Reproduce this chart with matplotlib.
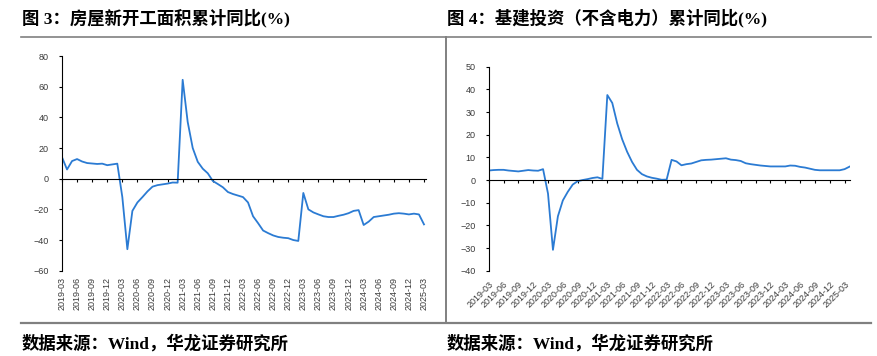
import matplotlib
matplotlib.use("Agg")
import matplotlib.pyplot as plt
from matplotlib.lines import Line2D

# ---------------- data ----------------
tick_labels = ["2019-03", "2019-06", "2019-09", "2019-12",
               "2020-03", "2020-06", "2020-09", "2020-12",
               "2021-03", "2021-06", "2021-09", "2021-12",
               "2022-03", "2022-06", "2022-09", "2022-12",
               "2023-03", "2023-06", "2023-09", "2023-12",
               "2024-03", "2024-06", "2024-09", "2024-12",
               "2025-03"]

# monthly values, first value at 2019-03
housing_starts = [14, 6, 11.5, 12.8, 11.2, 10.2, 9.9, 9.6, 9.8, 8.8, 9.3, 9.8,
                  -12, -46, -21, -15.5, -12, -8.3, -5.2, -4.2, -3.7, -3.2, -2.5, -2.6,
                  64.5, 37, 20, 11, 6.5, 3.5, -1.5, -3.5, -5.6, -8.7, -10, -11,
                  -12, -15.5, -24.5, -29, -33.8, -35.5, -37, -38, -38.5, -38.8, -40, -40.6,
                  -9.3, -20, -22, -23.3, -24.5, -25, -25, -24.2, -23.5, -22.5, -21, -20.5,
                  -30.2, -28, -25, -24.5, -24, -23.5, -22.8, -22.5, -22.8, -23.3, -22.8, -23.3,
                  -29.8]

infra_ex_power = [4.2, 4.4, 4.5, 4.5, 4.2, 4.0, 3.8, 4.1, 4.4, 4.2, 4.1, 4.8,
                  -6, -30.8, -16, -9, -5.2, -2, -0.5, 0, 0.4, 0.9, 1.2, 0.5,
                  37.5, 34, 25, 18, 12.5, 8, 4.5, 2.6, 1.6, 1.0, 0.6, 0.1,
                  0.2, 8.9, 8.2, 6.5, 7.0, 7.3, 8.0, 8.7, 8.9, 9.0, 9.2, 9.4,
                  9.6, 9.0, 8.8, 8.4, 7.4, 7.0, 6.7, 6.4, 6.2, 6.0, 6.0, 6.0,
                  6.0, 6.4, 6.3, 5.8, 5.5, 5.0, 4.5, 4.3, 4.3, 4.3, 4.3, 4.3,
                  4.8, 5.9]

left_title = "图 3：房屋新开工面积累计同比(%)"
right_title = "图 4：基建投资（不含电力）累计同比(%)"
source = "数据来源：Wind，华龙证券研究所"

left_yticks = [-60, -40, -20, 0, 20, 40, 60, 80]
right_yticks = [-40, -30, -20, -10, 0, 10, 20, 30, 40, 50]

# ---------------- style ----------------
W, H = 878, 356
fig = plt.figure(figsize=(W / 100, H / 100), dpi=100)
line_color = "#2b7bd3"
tick_color = "#3a3a3a"
rule_color = "#808080"
tick_font = ["Liberation Sans", "DejaVu Sans"]
cjk_font = ["Liberation Serif", "Noto Sans CJK SC", "DejaVu Sans"]


def fx(px):
    return px / W


def fy(py):
    return 1 - py / H


def make_panel(rect, values, yticks, xmax, rotation):
    ax = fig.add_axes(rect)
    x = list(range(len(values)))
    ax.plot(x, values, color=line_color, lw=1.3, solid_joinstyle="round")
    ax.set_xlim(0, xmax)
    ax.set_ylim(yticks[0], yticks[-1])
    ax.set_facecolor("none")
    for s in ["top", "right"]:
        ax.spines[s].set_visible(False)
    ax.spines["left"].set_linewidth(0.8)
    ax.spines["bottom"].set_position(("data", 0))
    ax.spines["bottom"].set_linewidth(0.8)
    ticks = [3 * i for i in range(len(tick_labels))]
    ax.set_xticks(ticks)
    ax.tick_params(axis="x", direction="out", length=2.5, width=0.8,
                   labelbottom=False)
    ax.set_yticks(yticks)
    ax.tick_params(axis="y", direction="out", length=2.5, width=0.8,
                   pad=7, labelsize=6.5, labelcolor=tick_color)
    for lab in ax.get_yticklabels():
        lab.set_family(tick_font)
    # labels at the bottom of the axes
    sec = ax.secondary_xaxis("bottom")
    sec.spines["bottom"].set_visible(False)
    sec.set_xticks(ticks)
    if rotation == 90:
        sec.set_xticklabels(tick_labels, rotation=90, ha="center", va="top",
                            fontsize=6.5, color=tick_color, family=tick_font)
        sec.tick_params(axis="x", length=0, pad=4.5)
    else:
        sec.set_xticklabels(tick_labels, rotation=45, ha="right", va="top",
                            rotation_mode="anchor",
                            fontsize=6.5, color=tick_color, family=tick_font)
        sec.tick_params(axis="x", length=0, pad=6.5)
    return ax


# left panel
make_panel([fx(62), fy(270.7), fx(426) - fx(62), fy(56) - fy(270.7)],
           housing_starts, left_yticks, 72.4, 90)
# right panel
make_panel([fx(488.7), fy(270.7), fx(850.5) - fx(488.7), fy(66.7) - fy(270.7)],
           infra_ex_power, right_yticks, 73.2, 45)

# titles and footers
fig.text(fx(22), fy(18), left_title, fontsize=12.5, fontweight="bold",
         family=cjk_font, ha="left", va="center")
fig.text(fx(447), fy(18), right_title, fontsize=12.5, fontweight="bold",
         family=cjk_font, ha="left", va="center")
fig.text(fx(22), fy(344), source, fontsize=12.5, fontweight="bold",
         family=cjk_font, ha="left", va="center")
fig.text(fx(447), fy(344), source, fontsize=12.5, fontweight="bold",
         family=cjk_font, ha="left", va="center")

# rules
fig.add_artist(Line2D([fx(21), fx(871.5)], [fy(37), fy(37)],
                      color=rule_color, lw=1.2))
fig.add_artist(Line2D([fx(21), fx(871.5)], [fy(323), fy(323)],
                      color=rule_color, lw=1.6))
fig.add_artist(Line2D([fx(446), fx(446)], [fy(37), fy(323)],
                      color=rule_color, lw=1.4))

fig.savefig("out.png", dpi=100)
